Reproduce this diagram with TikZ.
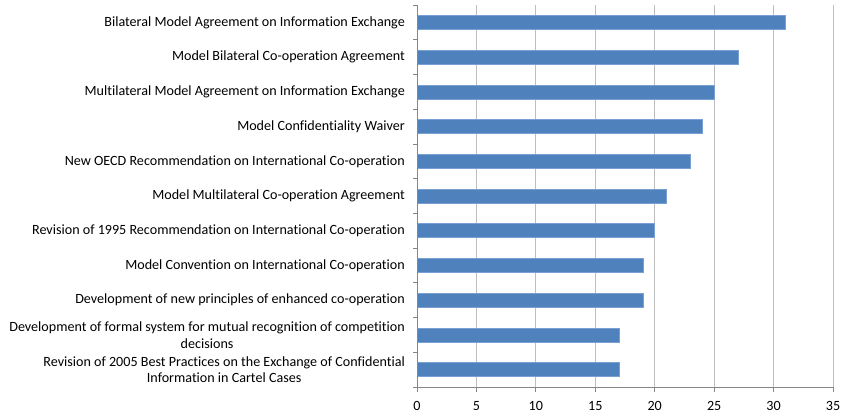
\documentclass[tikz,border=0pt]{standalone}
\usepackage{fontspec}
\setmainfont{Carlito}[Ligatures={NoCommon}]
\begin{document}
\begin{tikzpicture}[x=1pt, y=-1pt,
      label/.style = {
        anchor=east, align=center, inner sep=0pt,
        font=\fontsize{14.1}{16.5}\selectfont },
      tick-label/.style = {
        anchor=center, inner sep=0pt, font=\fontsize{14.1}{14.1}\selectfont },
      bar/.style = { fill={rgb,255:red,79;green,129;blue,189},
        draw={rgb,255:red,120;green,160;blue,210}, line width=0.6pt },
      grid-line/.style = { draw={rgb,255:red,190;green,190;blue,190}, line width=0.8pt },
      axis-line/.style = { draw={rgb,255:red,134;green,134;blue,134}, line width=0.8pt }]
    \useasboundingbox (0,0) rectangle (842,414);
    % grid lines and x axis ticks
    \foreach \k in {1,...,7}
      \draw[grid-line] (417+59.43*\k, 5) -- (417+59.43*\k, 387);
    \foreach \k in {0,...,7} {
      \draw[axis-line] (417+59.43*\k, 387) -- (417+59.43*\k, 392);
      \pgfmathtruncatemacro{\val}{5*\k}
      \node[tick-label] (tick\k) at (417+59.43*\k, 406) {\val};
    }
    % bars
    \foreach \v [count=\i] in {31,27,25,24,23,21,20,19,19,17,17}
      \draw[bar] (417, 5+34.73*\i-34.73/2-7) rectangle (417+11.886*\v, 5+34.73*\i-34.73/2+7);
    % axes
    \foreach \i in {0,...,11}
      \draw[axis-line] (413, 5+34.73*\i) -- (417, 5+34.73*\i);
    \draw[axis-line] (417, 5) -- (417, 387) -- (833, 387);
    % category labels
    \node [label] (cat1) at (405, 22.4) {Bilateral Model Agreement on Information Exchange};
    \node [label] (cat2) at (405, 57.1) {Model Bilateral Co-operation Agreement};
    \node [label] (cat3) at (405, 91.8) {Multilateral Model Agreement on Information Exchange};
    \node [label] (cat4) at (405, 126.6) {Model Confidentiality Waiver};
    \node [label] (cat5) at (405, 161.3) {New OECD Recommendation on International Co-operation};
    \node [label] (cat6) at (405, 196.0) {Model Multilateral Co-operation Agreement};
    \node [label] (cat7) at (405, 230.8) {Revision of 1995 Recommendation on International Co-operation};
    \node [label] (cat8) at (405, 265.5) {Model Convention on International Co-operation};
    \node [label] (cat9) at (405, 300.2) {Development of new principles of enhanced co-operation};
    \node [label] (cat10) at (405, 335.0) {Development of formal system for mutual recognition of competition\\ decisions};
    \node [label] (cat11) at (405, 369.7) {Revision of 2005 Best Practices on the Exchange of Confidential\\ Information in Cartel Cases};
  \end{tikzpicture}
\end{document}
